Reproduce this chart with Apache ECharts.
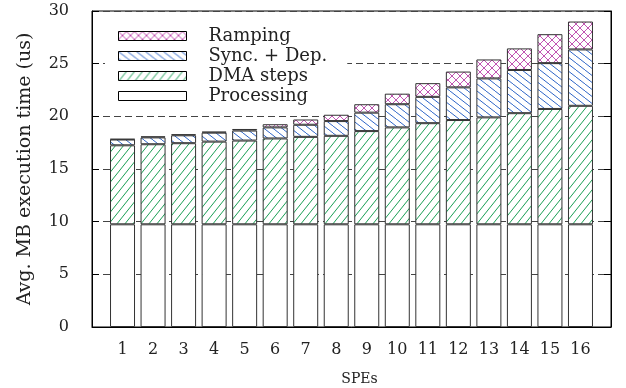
<!DOCTYPE html>
<html>
<head>
<meta charset="utf-8">
<script src="https://cdn.jsdelivr.net/npm/echarts@6/dist/echarts.min.js"></script>
<style>
  html, body { margin: 0; padding: 0; background: #fff; }
  #chart { width: 626px; height: 388px; }
</style>
</head>
<body>
<div id="chart"></div>
<script>
// SPE counts along the x axis
const speCounts = ['1', '2', '3', '4', '5', '6', '7', '8', '9', '10', '11', '12', '13', '14', '15', '16'];
// Time components per macroblock (us), stacked bottom to top
const processing = [9.75, 9.75, 9.75, 9.75, 9.75, 9.75, 9.75, 9.75, 9.75, 9.75, 9.75, 9.75, 9.75, 9.75, 9.75, 9.75];
const dmaSteps   = [7.5, 7.6, 7.7, 7.85, 7.95, 8.15, 8.3, 8.4, 8.85, 9.2, 9.6, 9.9, 10.15, 10.55, 10.95, 11.25];
const syncDep    = [0.55, 0.65, 0.75, 0.85, 0.95, 1.05, 1.15, 1.4, 1.75, 2.2, 2.5, 3.1, 3.7, 4.1, 4.35, 5.35];
const ramping    = [0.05, 0.1, 0.1, 0.1, 0.15, 0.3, 0.5, 0.6, 0.8, 1.0, 1.3, 1.5, 1.8, 2.05, 2.75, 2.65];
const yTicks = [0, 5, 10, 15, 20, 25, 30];

const SERIF = "'DejaVu Serif', 'Liberation Serif', serif";

// Empty slots on both ends give the half-step margin inside the frame
const xCategories = [''].concat(speCounts, ['']);
function padded(vals) { return ['-'].concat(vals, ['-']); }

// Small repeating tiles used as hatch fills
function tile(w, h, color, draw) {
  const c = document.createElement('canvas');
  c.width = w; c.height = h;
  const g = c.getContext('2d');
  g.fillStyle = '#fff';
  g.fillRect(0, 0, w, h);
  g.strokeStyle = color;
  g.lineWidth = 1;
  draw(g, w, h);
  return { image: c, repeat: 'repeat' };
}
function line(g, x1, y1, x2, y2) {
  g.beginPath(); g.moveTo(x1, y1); g.lineTo(x2, y2); g.stroke();
}
const greenHatch = tile(8, 10, '#1a9e55', (g, w, h) => {
  for (const dx of [-w, 0, w]) line(g, dx, h, dx + w, 0);
});
const blueHatch = tile(9, 7, '#2f66c8', (g, w, h) => {
  for (const dx of [-w, 0, w]) line(g, dx, 0, dx + w, h);
});
const pinkCross = tile(8, 8, '#c155b3', (g, w, h) => {
  for (const dx of [-w, 0, w]) {
    line(g, dx, h, dx + w, 0);
    line(g, dx, 0, dx + w, h);
  }
});

function barSeries(name, vals, fill) {
  return {
    name: name,
    type: 'bar',
    stack: 'total',
    barWidth: 25,
    data: padded(vals),
    itemStyle: { color: fill, borderColor: '#333', borderWidth: 1 },
    emphasis: { disabled: true },
    animation: false
  };
}

const chart = echarts.init(document.getElementById('chart'), null, { renderer: 'canvas' });
chart.setOption({
  backgroundColor: '#fff',
  animation: false,
  grid: {
    left: 92, right: 15, top: 11, bottom: 61,
    outerBoundsMode: 'none', containLabel: false,
    show: true, borderColor: '#000', borderWidth: 1, backgroundColor: 'transparent'
  },
  legend: {
    orient: 'vertical',
    left: 105,
    top: 23,
    padding: [4, 20, 4, 13],
    backgroundColor: '#fff',
    icon: 'rect',
    itemWidth: 68,
    itemHeight: 9,
    itemGap: 2,
    selectedMode: false,
    data: ['Ramping', 'Sync. + Dep.', 'DMA steps', 'Processing'],
    itemStyle: { borderColor: '#000', borderWidth: 1 },
    textStyle: { fontFamily: SERIF, fontSize: 18, color: '#222', padding: [0, 0, 0, 17] }
  },
  xAxis: {
    type: 'category',
    data: xCategories,
    boundaryGap: false,
    name: 'SPEs',
    nameLocation: 'middle',
    nameGap: 45,
    nameTextStyle: { fontFamily: SERIF, fontSize: 14, color: '#222', padding: [0, 0, 0, 16] },
    axisLine: { show: true, lineStyle: { color: '#000', width: 1 } },
    axisTick: { show: false },
    splitLine: { show: false },
    axisLabel: { fontFamily: SERIF, fontSize: 16, color: '#222', margin: 15, interval: 0 }
  },
  yAxis: [
    {
      type: 'value',
      min: yTicks[0],
      max: yTicks[yTicks.length - 1],
      interval: 5,
      name: 'Avg. MB execution time (us)',
      nameLocation: 'middle',
      nameGap: 57,
      nameTextStyle: { fontFamily: SERIF, fontSize: 19, color: '#222' },
      axisLine: { show: true, lineStyle: { color: '#000', width: 1 } },
      axisTick: { show: true, inside: true, length: 7, lineStyle: { color: '#000' } },
      axisLabel: { fontFamily: SERIF, fontSize: 16, color: '#222', margin: 23 },
      splitLine: { show: true, lineStyle: { color: '#444', width: 1, type: [7, 4] } }
    },
    {
      type: 'value',
      position: 'right',
      min: yTicks[0],
      max: yTicks[yTicks.length - 1],
      interval: 5,
      axisLine: { show: true, lineStyle: { color: '#000', width: 1 } },
      axisTick: { show: true, inside: true, length: 7, lineStyle: { color: '#000' } },
      axisLabel: { show: false },
      splitLine: { show: false }
    }
  ],
  series: [
    barSeries('Processing', processing, '#fff'),
    barSeries('DMA steps', dmaSteps, greenHatch),
    barSeries('Sync. + Dep.', syncDep, blueHatch),
    barSeries('Ramping', ramping, pinkCross)
  ]
});
</script>
</body>
</html>
